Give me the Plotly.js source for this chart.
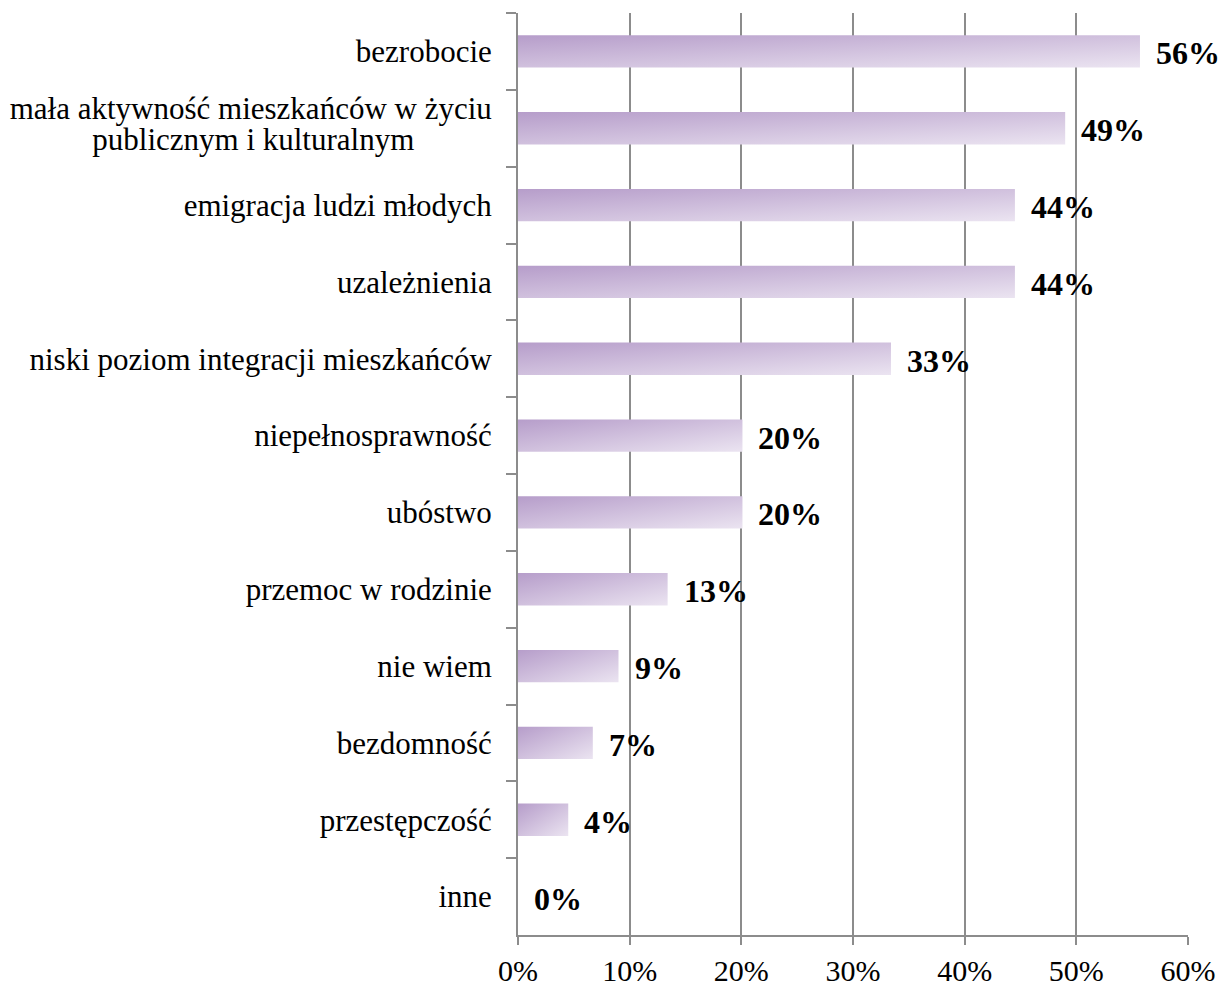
<!DOCTYPE html>
<html>
<head>
<meta charset="utf-8">
<script src="https://cdn.plot.ly/plotly-3.0.1.min.js"></script>
<style>html,body{margin:0;padding:0;background:#fff;}#chart{width:1227px;height:985px;}</style>
</head>
<body>
<div id="chart"></div>
<script>
const categories = [
  "bezrobocie",
  "mała aktywność mieszkańców w życiu<br>publicznym i kulturalnym\u00a0\u00a0\u00a0\u00a0\u00a0\u00a0\u00a0\u00a0\u00a0\u00a0",
  "emigracja ludzi młodych",
  "uzależnienia",
  "niski poziom integracji mieszkańców",
  "niepełnosprawność",
  "ubóstwo",
  "przemoc w rodzinie",
  "nie wiem",
  "bezdomność",
  "przestępczość",
  "inne"
];
const values = [0.557, 0.49, 0.445, 0.445, 0.334, 0.201, 0.201, 0.134, 0.09, 0.067, 0.045, 0.0];
const valueLabels = ["56%", "49%", "44%", "44%", "33%", "20%", "20%", "13%", "9%", "7%", "4%", "0%"];
const xTickVals = [0, 0.1, 0.2, 0.3, 0.4, 0.5, 0.6];
const xTickText = ["0%", "10%", "20%", "30%", "40%", "50%", "60%"];

const FONT = "Liberation Serif";

const trace = {
  type: "bar",
  orientation: "h",
  x: values,
  y: categories,
  marker: {color: "#c9b6da", line: {width: 0}},
  hoverinfo: "none"
};

const annotations = values.map((v, i) => ({
  x: v, y: categories[i], xref: "x", yref: "y",
  text: "<b>" + valueLabels[i] + "</b>",
  showarrow: false, xanchor: "left", yanchor: "middle",
  xshift: 14, yshift: -2,
  font: {family: FONT, size: 32, color: "#000"}
}));

const gridColor = "#8c8c8c";
const layout = {
  width: 1227, height: 985,
  margin: {l: 518, r: 39, t: 13, b: 50, pad: 0},
  paper_bgcolor: "#fff", plot_bgcolor: "#fff",
  showlegend: false,
  bargap: 0.58,
  font: {family: FONT, size: 31, color: "#000"},
  xaxis: {
    range: [0, 0.6], tickvals: xTickVals, ticktext: xTickText,
    showgrid: true, gridcolor: gridColor, gridwidth: 2,
    showline: true, linecolor: gridColor, linewidth: 2,
    ticks: "outside", ticklen: 8, tickcolor: gridColor, tickwidth: 2,
    ticklabelstandoff: 0,
    zeroline: false, fixedrange: true,
    tickfont: {family: FONT, size: 30, color: "#000"}
  },
  yaxis: {
    type: "category", autorange: "reversed",
    showgrid: false, showline: true, linecolor: gridColor, linewidth: 2,
    ticks: "outside", tickson: "boundaries", ticklen: 10, tickcolor: gridColor, tickwidth: 2,
    ticklabelstandoff: 18,
    zeroline: false, fixedrange: true,
    tickfont: {family: FONT, size: 31, color: "#000"}
  },
  annotations: annotations
};

Plotly.newPlot("chart", [trace], layout, {displayModeBar: false, staticPlot: true}).then(function (gd) {
  const svg = gd.querySelector("svg.main-svg");
  const ns = "http://www.w3.org/2000/svg";
  let defs = svg.querySelector("defs");
  if (!defs) { defs = document.createElementNS(ns, "defs"); svg.insertBefore(defs, svg.firstChild); }
  const lg = document.createElementNS(ns, "linearGradient");
  lg.setAttribute("id", "barGrad");
  lg.setAttribute("x1", "0"); lg.setAttribute("y1", "0");
  lg.setAttribute("x2", "1"); lg.setAttribute("y2", "1");
  [["0", "#b69dca"], ["1", "#ebe4f1"]].forEach(function (s) {
    const st = document.createElementNS(ns, "stop");
    st.setAttribute("offset", s[0]); st.setAttribute("stop-color", s[1]);
    lg.appendChild(st);
  });
  defs.appendChild(lg);
  gd.querySelectorAll(".barlayer .point path").forEach(function (p) {
    p.style.fill = "url(#barGrad)";
  });
  // tighten line spacing of the two-line category label
  gd.querySelectorAll(".ytick text").forEach(function (t) {
    const lines = t.querySelectorAll("tspan.line");
    if (lines.length > 1) {
      const b0 = t.getBBox();
      const c0 = b0.y + b0.height / 2;
      for (let k = 1; k < lines.length; k++) lines[k].setAttribute("dy", "1.0em");
      const b1 = t.getBBox();
      const c1 = b1.y + b1.height / 2;
      const y = parseFloat(t.getAttribute("y") || "0");
      t.setAttribute("y", y + (c0 - c1) + 3);
    }
  });
});
</script>
</body>
</html>
